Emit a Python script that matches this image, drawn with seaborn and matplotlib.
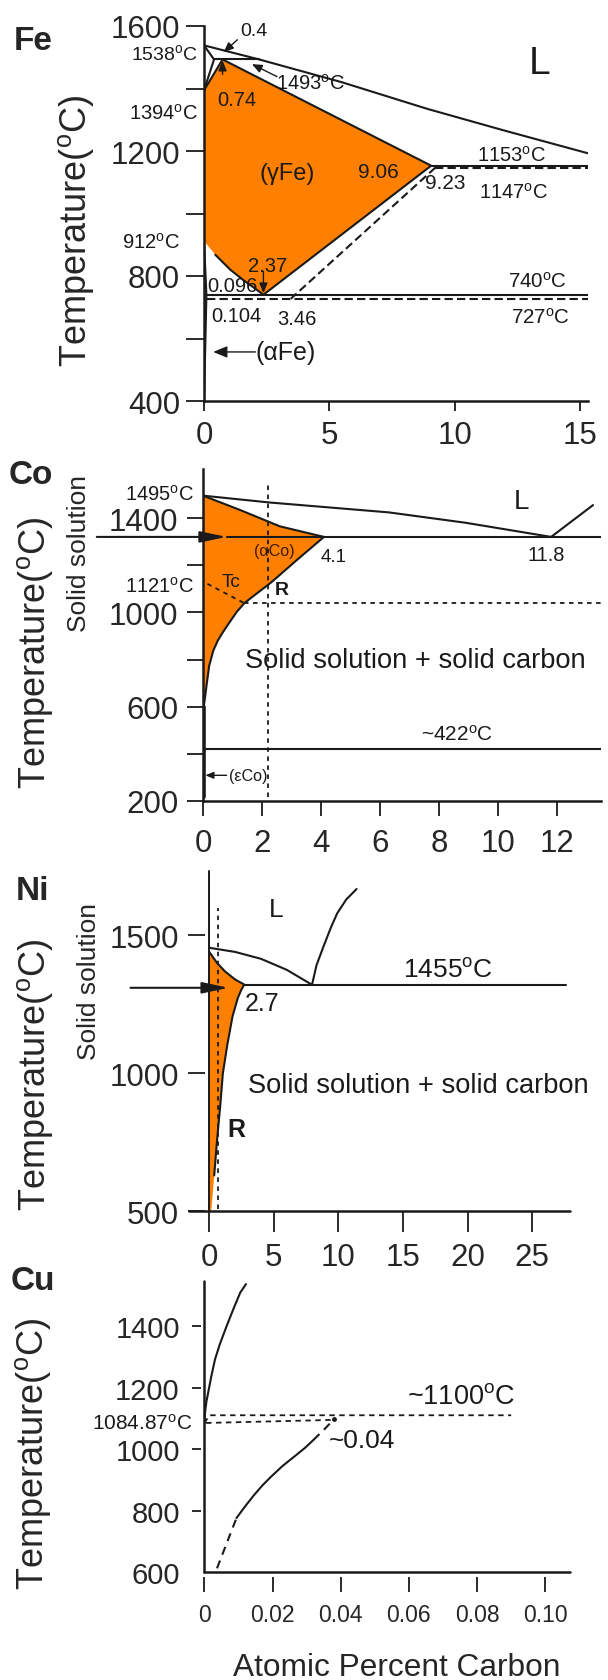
import matplotlib
matplotlib.use("Agg")
import matplotlib.pyplot as plt
import seaborn as sns

sns.set_theme(style="ticks")
plt.rcParams["font.family"] = ["Liberation Sans", "DejaVu Sans"]
plt.rcParams["mathtext.fontset"] = "custom"
plt.rcParams["mathtext.rm"] = "Liberation Sans"
plt.rcParams["mathtext.it"] = "Liberation Sans:italic"
plt.rcParams["mathtext.bf"] = "Liberation Sans:bold"

ORANGE = "#FF8000"
DEG = r"$^{\mathrm{o}}$C"

# ---------------- Fe–C ----------------
fe_liq_x = [0, 2.2, 5.5, 8.9, 12.0, 15.3]
fe_liq_t = [1538, 1493, 1420, 1335, 1265, 1193]
fe_delta_x = [0, 0.4, 0]
fe_delta_t = [1538, 1493, 1394]
fe_perit_x = [0.4, 2.2]
fe_perit_t = [1493, 1493]
fe_gamma_x = [0, 0.74, 9.06, 2.37, 2.0, 1.6, 1.05, 0.45, 0]
fe_gamma_t = [1394, 1493, 1153, 740, 762, 785, 820, 868, 912]
fe_alpha_x = [0, 0.096, 0.062, 0.015, 0]
fe_alpha_t = [912, 740, 616, 450, 400]
fe_eut_x = [9.06, 15.3]
fe_eut_t = [1153, 1153]
fe_eut_meta_x = [9.23, 15.3]
fe_eut_meta_t = [1147, 1147]
fe_acm_meta_x = [9.23, 3.46]
fe_acm_meta_t = [1147, 727]
fe_ed_x = [0.096, 15.3]
fe_ed_t = [740, 740]
fe_ed_meta_x = [0.104, 15.3]
fe_ed_meta_t = [727, 727]
fe_xticks = [0, 5, 10, 15]
fe_yticks = [400, 800, 1200, 1600]
fe_yminor = [600, 1000, 1400]

# ---------------- Co–C ----------------
co_liq_x = [0, 2.25, 6.3, 8.9, 11.8]
co_liq_t = [1495, 1466, 1424, 1380, 1320]
co_gliq_x = [11.8, 13.22]
co_gliq_t = [1320, 1455]
co_ss_x = [0, 1.3, 2.6, 4.1, 3.2, 2.32, 1.8, 1.4, 1.15, 0.9, 0.67, 0.5, 0.35,
           0.21, 0.12, 0.07, 0.03, 0.0]
co_ss_t = [1495, 1432, 1365, 1320, 1224, 1128, 1078, 1039, 1003, 958, 915, 880, 838,
           774, 690, 640, 605, 590]
co_eut_t = 1320
co_tc_x = [0.15, 1.4]
co_tc_t = [1121, 1039]
co_mag_x = [1.4, 13.5]
co_mag_t = [1039, 1039]
co_ref_x = [2.22, 2.22]
co_ref_t = [217, 1550]
co_hcp_x = [0, 13.5]
co_hcp_t = [422, 422]
co_eps_x = [0.04, 0.04]
co_eps_t = [600, 215]
co_xticks = [0, 2, 4, 6, 8, 10, 12]
co_yticks = [200, 600, 1000, 1400]
co_yminor = [400, 800, 1200]

# ---------------- Ni–C ----------------
ni_liq_x = [0, 2.0, 4.0, 6.0, 7.95]
ni_liq_t = [1455, 1440, 1415, 1375, 1321]
ni_gliq_x = [7.95, 8.3, 8.85, 9.4, 9.9, 10.6, 11.4]
ni_gliq_t = [1321, 1392, 1461, 1527, 1580, 1630, 1668]
ni_ss_x = [0, 0.3, 0.6, 1.2, 2.0, 2.7, 2.45, 2.2, 1.8, 1.4, 1.05, 0.84, 0.6, 0.38, 0.15, 0]
ni_ss_t = [1440, 1420, 1400, 1370, 1340, 1322, 1300, 1272, 1207, 1105, 1000, 879, 758,
           630, 500, 500]
ni_eut_x = [2.7, 27.6]
ni_eut_t = [1321, 1321]
ni_ref_x = [0.66, 0.66]
ni_ref_t = [510, 1600]
ni_xticks = [0, 5, 10, 15, 20, 25]
ni_yticks = [500, 1000, 1500]

# ---------------- Cu–C ----------------
cu_liq_x = [0, 0.0002, 0.0006, 0.0011, 0.002, 0.0031, 0.0045, 0.0065, 0.0085, 0.0105, 0.0122]
cu_liq_t = [1085, 1120, 1155, 1183, 1235, 1291, 1340, 1399, 1455, 1508, 1536]
cu_sol_lo_x = [0.0037, 0.0094]
cu_sol_lo_t = [613, 776]
cu_sol_x = [0.0094, 0.012, 0.0145, 0.017, 0.0196, 0.023, 0.0265, 0.0295, 0.032]
cu_sol_t = [776, 815, 850, 882, 911, 946, 977, 1004, 1030]
cu_sol_hi_x = [0.032, 0.0355, 0.038]
cu_sol_hi_t = [1030, 1068, 1097]
cu_up_x = [0, 0.0015, 0.09]
cu_up_t = [1085, 1110, 1110]
cu_low_x = [0.0005, 0.038]
cu_low_t = [1085, 1095]
cu_xticks = [0, 0.02, 0.04, 0.06, 0.08, 0.10]
cu_xlabels = ["0", "0.02", "0.04", "0.06", "0.08", "0.10"]
cu_yticks = [600, 800, 1000, 1200, 1400]

W, H = 608, 1681
fig = plt.figure(figsize=(W / 100, H / 100), dpi=100)


def panel(left, right, top, bottom):
    return fig.add_axes([left / W, 1 - bottom / H, (right - left) / W, (bottom - top) / H])


def line(ax, xs, ts, ls="-", lw=1.5, z=3):
    sns.lineplot(x=xs, y=ts, ax=ax, sort=False, estimator=None, color="k",
                 lw=lw, linestyle=ls, legend=False, zorder=z)


def lab(ax, x, t, s, size, ha="center", color="k", **kw):
    ax.text(x, t, s, fontsize=size, ha=ha, va="center", color=color, **kw)


def arrow(ax, tail, tip, ms=10, hl=0.6, hw=0.25, lw=1.0):
    ax.annotate("", xy=tip, xytext=tail, annotation_clip=False,
                arrowprops=dict(arrowstyle=f"-|>,head_length={hl},head_width={hw}",
                                mutation_scale=ms, color="k", lw=lw,
                                shrinkA=0, shrinkB=0))


def finish(ax):
    ax.set_xlabel("")
    ax.set_ylabel("")
    sns.despine(ax=ax)
    for s in ("left", "bottom"):
        ax.spines[s].set_linewidth(1.8)
        ax.spines[s].set_color("k")
    ax.set_facecolor("none")


# ===== Fe panel =====
ax = panel(204, 587.6, 27, 402)
ax.fill(fe_gamma_x, fe_gamma_t, color=ORANGE, lw=0, zorder=1)
ax.fill(fe_alpha_x, fe_alpha_t, color=ORANGE, lw=0, zorder=1)
line(ax, fe_gamma_x[:-1], fe_gamma_t[:-1])
line(ax, fe_alpha_x, fe_alpha_t)
line(ax, fe_liq_x, fe_liq_t)
line(ax, fe_delta_x, fe_delta_t)
line(ax, fe_perit_x, fe_perit_t)
line(ax, fe_eut_x, fe_eut_t)
line(ax, fe_ed_x, fe_ed_t)
line(ax, fe_eut_meta_x, fe_eut_meta_t, ls=(0, (4, 2)))
line(ax, fe_acm_meta_x, fe_acm_meta_t, ls=(0, (4, 2)))
line(ax, fe_ed_meta_x, fe_ed_meta_t, ls=(0, (4, 2)))
ax.set_xlim(0, 15.3)
ax.set_ylim(400, 1600)
ax.set_xticks(fe_xticks)
ax.set_xticklabels([str(v) for v in fe_xticks])
ax.set_yticks(fe_yticks)
ax.set_yticklabels([str(v) for v in fe_yticks])
ax.set_yticks(fe_yminor, minor=True)
ax.tick_params(axis="y", which="both", direction="out", length=13, width=1.3,
               pad=4.3, labelsize=22.5, left=True, color="k")
ax.tick_params(axis="x", direction="out", length=7.2, width=1.3, pad=6.5,
               labelsize=22.5, bottom=True, color="k")
finish(ax)
lab(ax, 1.99, 1584, "0.4", 14)
arrow(ax, (1.33, 1556), (0.78, 1516))
lab(ax, 4.23, 1419, "1493" + DEG, 14.5)
arrow(ax, (2.91, 1438), (1.91, 1478))
lab(ax, 1.32, 1365, "0.74", 14.5)
arrow(ax, (0.74, 1445), (0.74, 1489))
lab(ax, 3.3, 1130, "(γFe)", 17)
lab(ax, 6.94, 1135, "9.06", 15)
lab(ax, 9.64, 1098, "9.23", 15)
lab(ax, 12.27, 1189, "1153" + DEG, 14.5)
lab(ax, 12.35, 1071, "1147" + DEG, 14.5)
lab(ax, 13.28, 784, "740" + DEG, 14.8)
lab(ax, 13.43, 670, "727" + DEG, 14.8)
lab(ax, 1.15, 770, "0.096", 14.5)
lab(ax, 1.29, 675, "0.104", 14.5)
lab(ax, 2.55, 833, "2.37", 14.5)
arrow(ax, (2.37, 815), (2.37, 745))
lab(ax, 3.69, 664, "3.46", 14.5)
lab(ax, 2.07, 557, "(αFe)", 18, ha="left")
arrow(ax, (2.05, 557), (0.37, 557), ms=14)
lab(ax, 13.4, 1480, "L", 28)
lab(ax, -0.25, 1513, "1538" + DEG, 14, ha="right")
lab(ax, -0.25, 1323, "1394" + DEG, 14.5, ha="right")
lab(ax, -0.96, 910, "912" + DEG, 14.5, ha="right")

# ===== Co panel =====
ax = panel(203, 601, 470, 802)
ax.fill(co_ss_x, co_ss_t, color=ORANGE, lw=0, zorder=1)
line(ax, co_ss_x[:-1], co_ss_t[:-1])
line(ax, co_liq_x, co_liq_t)
line(ax, co_gliq_x, co_gliq_t)
line(ax, [0.8, 13.5], [co_eut_t, co_eut_t])
arrow(ax, (-3.6, co_eut_t), (0.8, co_eut_t), ms=20, hl=0.8, hw=0.17, lw=1.5)
line(ax, co_tc_x, co_tc_t, ls=(0, (2.5, 2.5)), lw=1.3)
line(ax, co_mag_x, co_mag_t, ls=(0, (2.5, 2.5)), lw=1.3)
line(ax, co_ref_x, co_ref_t, ls=(0, (2.5, 2.5)), lw=1.3)
line(ax, co_hcp_x, co_hcp_t)
line(ax, co_eps_x, co_eps_t, lw=2.6)
ax.set_xlim(0, 13.49)
ax.set_ylim(200, 1608)
ax.set_xticks(co_xticks)
ax.set_xticklabels([str(v) for v in co_xticks])
ax.set_yticks(co_yticks)
ax.set_yticklabels([str(v) for v in co_yticks])
ax.set_yticks(co_yminor, minor=True)
ax.tick_params(axis="y", which="both", direction="out", length=11.5, width=1.3,
               pad=6.3, labelsize=22.5, left=True, color="k")
ax.tick_params(axis="x", direction="out", length=11, width=1.3, pad=8.6,
               labelsize=22.5, bottom=True, color="k")
finish(ax)
lab(ax, -0.31, 1502, "1495" + DEG, 14.5, ha="right")
lab(ax, -0.31, 1112, "1121" + DEG, 14.5, ha="right")
lab(ax, 10.79, 1473, "L", 20)
lab(ax, 2.41, 1261, "(αCo)", 11.6, color="#3a1a00")
lab(ax, 4.42, 1238, "4.1", 13.5)
lab(ax, 11.64, 1247, "11.8", 14.4)
lab(ax, 0.96, 1132, "Tc", 13.7)
lab(ax, 2.67, 1096, "R", 14, fontweight="bold")
lab(ax, 7.2, 799, "Solid solution + solid carbon", 19.6)
lab(ax, 8.62, 486, "~422" + DEG, 15)
lab(ax, 1.53, 309, "(εCo)", 11.6)
arrow(ax, (0.8, 309), (0.08, 309), ms=8)

# ===== Ni panel =====
ax = panel(209.3, 570, 871.8, 1212.3)
ax.fill(ni_ss_x, ni_ss_t, color=ORANGE, lw=0, zorder=1)
line(ax, ni_ss_x[:-2], ni_ss_t[:-2])
line(ax, ni_liq_x, ni_liq_t)
line(ax, ni_gliq_x, ni_gliq_t)
line(ax, ni_eut_x, ni_eut_t)
arrow(ax, (-6.1, 1310), (1.5, 1310), ms=20, hl=0.8, hw=0.17, lw=1.5)
line(ax, ni_ref_x, ni_ref_t, ls=(0, (2.5, 2.5)), lw=1.3)
ax.set_xlim(0, 27.92)
ax.set_ylim(500, 1734)
ax.set_xticks(ni_xticks)
ax.set_xticklabels([str(v) for v in ni_xticks])
ax.set_yticks(ni_yticks)
ax.set_yticklabels([str(v) for v in ni_yticks])
ax.tick_params(axis="y", direction="out", length=12.2, width=1.3, pad=6.5,
               labelsize=22.5, left=True, color="k")
ax.tick_params(axis="x", direction="out", length=15, width=1.3, pad=7.2,
               labelsize=22.5, bottom=True, color="k")
finish(ax)
ax.spines["left"].set_position(("outward", 2.9))
ax.spines["left"].set_visible(False)
ax.spines["bottom"].set_visible(False)
ax.axvline(0, color="k", lw=1.4, clip_on=False)
ax.plot([-1.6, 27.92], [500, 500], color="k", lw=1.8, clip_on=False)
lab(ax, 5.16, 1595, "L", 19)
lab(ax, 18.45, 1376, "1455" + DEG, 19)
lab(ax, 4.05, 1255, "2.7", 18)
lab(ax, 2.1, 800, "R", 18, fontweight="bold")
lab(ax, 16.2, 958, "Solid solution + solid carbon", 19.6)

# ===== Cu panel =====
ax = panel(204.4, 569.8, 1281.7, 1573.3)
line(ax, cu_liq_x, cu_liq_t)
line(ax, cu_sol_lo_x, cu_sol_lo_t, ls=(0, (4, 3)))
line(ax, cu_sol_x, cu_sol_t)
line(ax, cu_sol_hi_x, cu_sol_hi_t, ls=(0, (4, 3)))
line(ax, cu_up_x, cu_up_t, ls=(0, (3, 2.5)), lw=1.3)
line(ax, cu_low_x, cu_low_t, ls=(0, (3, 2.5)), lw=1.3)
ax.plot([cu_sol_hi_x[-1]], [cu_sol_hi_t[-1]], marker="o", ms=2.5, color="k")
ax.set_xlim(0, 0.1072)
ax.set_ylim(600, 1547)
ax.set_xticks(cu_xticks)
ax.set_xticklabels(cu_xlabels)
ax.set_yticks(cu_yticks)
ax.set_yticklabels([str(v) for v in cu_yticks])
ax.tick_params(axis="y", direction="out", length=6.5, width=1.3, pad=9,
               labelsize=21, left=True, color="k")
ax.tick_params(axis="x", direction="out", length=11, width=1.3, pad=7.2,
               labelsize=16.5, bottom=True, color="k")
finish(ax)
ax.spines["left"].set_position(("outward", 2.2))
ax.spines["bottom"].set_position(("outward", 3.6))
ax.spines["left"].set_visible(False)
ax.spines["bottom"].set_visible(False)
ax.yaxis.get_major_ticks()[0].tick1line.set_visible(False)
ax.axvline(0, color="k", lw=1.8, clip_on=False)
ax.axhline(600, color="k", lw=1.8, clip_on=False)
lab(ax, 0.0753, 1172, "~1100" + DEG, 19.5)
lab(ax, 0.0463, 1031, "~0.04", 19)
lab(ax, -0.0035, 1085, "1084.87" + DEG, 15, ha="right")

# ===== figure-level labels =====
for name, x, y in [("Fe", 33, 42), ("Co", 31, 475), ("Ni", 33, 892), ("Cu", 33, 1282)]:
    fig.text(x / W, 1 - y / H, name, fontsize=24, fontweight="bold", ha="center", va="center")
for x, y in [(76, 231), (35, 653), (35, 1075), (33, 1454)]:
    fig.text(x / W, 1 - y / H, "Temperature(" + DEG + ")", fontsize=26, rotation=90,
             ha="center", va="center")
for x, y in [(79, 554), (89, 981)]:
    fig.text(x / W, 1 - y / H, "Solid solution", fontsize=19, rotation=90,
             ha="center", va="center")
fig.text(397 / W, 1 - 1668 / H, "Atomic Percent Carbon", fontsize=22.8,
         ha="center", va="center")

fig.savefig("out.png", dpi=100, facecolor="white")
